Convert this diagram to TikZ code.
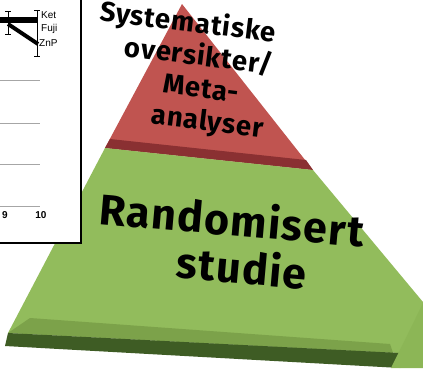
\documentclass[tikz,border=0pt]{standalone}
\usepackage{fontspec}
\usepackage{tikz}
\usetikzlibrary{positioning}
\newfontfamily\pyrfont{Fira Sans}[LetterSpace=3]
\newfontfamily\chartfont{Liberation Sans}
\definecolor{redface}{RGB}{192,84,80}
\definecolor{redband}{RGB}{138,48,50}
\definecolor{greenface}{RGB}{146,188,92}
\definecolor{greenbevel}{RGB}{124,162,74}
\definecolor{greenband}{RGB}{62,92,36}
\definecolor{greenside}{RGB}{140,182,86}

\begin{document}
\begin{tikzpicture}[x=1pt,y=1pt,
    toptext/.style={font=\pyrfont\bfseries\fontsize{27.5}{32}\selectfont,rotate=-7,
        inner sep=0pt,align=center},
    midtext/.style={font=\pyrfont\bfseries\fontsize{43}{47}\selectfont,rotate=-5,
        inner sep=0pt,align=center},
    legend/.style={font=\chartfont\fontsize{10}{10}\selectfont,anchor=west,inner sep=0pt},
    grid/.style={gray!70,line width=0.6pt}]
    \useasboundingbox (0,0) rectangle (423,-368);
    \fill[white] (0,0) rectangle (423,-368);
    % pyramid
    \fill[redface] (182,-4) -- (313,-170) -- (105,-148) -- cycle;
    \fill[redband] (110,-139) -- (306,-160) -- (313,-170) -- (105,-148) -- cycle;
    \fill[greenface] (105,-148) -- (313,-170) -- (423,-302) -- (423,-330)
        -- (400,-353) -- (8,-333) -- cycle;
    \fill[greenbevel] (30,-318) -- (390,-344) -- (393,-353) -- (8,-333) -- cycle;
    \fill[greenband] (8,-333) -- (400,-353) -- (400,-368) -- (5,-346) -- cycle;
    \fill[greenside] (391,-368) -- (423,-303) -- (423,-368) -- cycle;
    \node[toptext] (top) at (197,-73)
        {Systematiske\hspace*{30pt}\\oversikter/\hspace*{12pt}\\
         \hspace*{12pt}Meta-\\\hspace*{33pt}analyser};
    \node[midtext] (mid) at (230,-242) {Randomisert\\\hspace*{28pt}studie};
    % chart inset
    \draw[line width=1.6pt,fill=white] (-2,2) rectangle (81,-243);
    \foreach \gy in {80,123,164,206}
        \draw[grid] (0,-\gy) -- (40,-\gy);
    \draw[line width=6pt] (0,-20) -- (38,-20);
    \draw[line width=4pt] (8,-24) -- (38,-44);
    \draw[line width=0.6pt] (8,-11) -- (8,-34) (5,-11) -- (11,-11) (5,-34) -- (11,-34);
    \draw[line width=0.6pt] (37,-10) -- (37,-56) (34,-10) -- (40,-10) (34,-56) -- (40,-56);
    \node[legend] (ket) at (41,-15) {Ket};
    \node[legend] (fuji) at (41,-29) {Fuji};
    \node[legend] (znp) at (39,-43) {ZnP};
    \node[font=\chartfont\bfseries\fontsize{10}{10}\selectfont,inner sep=0pt] (nine) at (5,-215) {9};
    \node[font=\chartfont\bfseries\fontsize{10}{10}\selectfont,inner sep=0pt] (ten) at (41,-215) {10};
\end{tikzpicture}
\end{document}
